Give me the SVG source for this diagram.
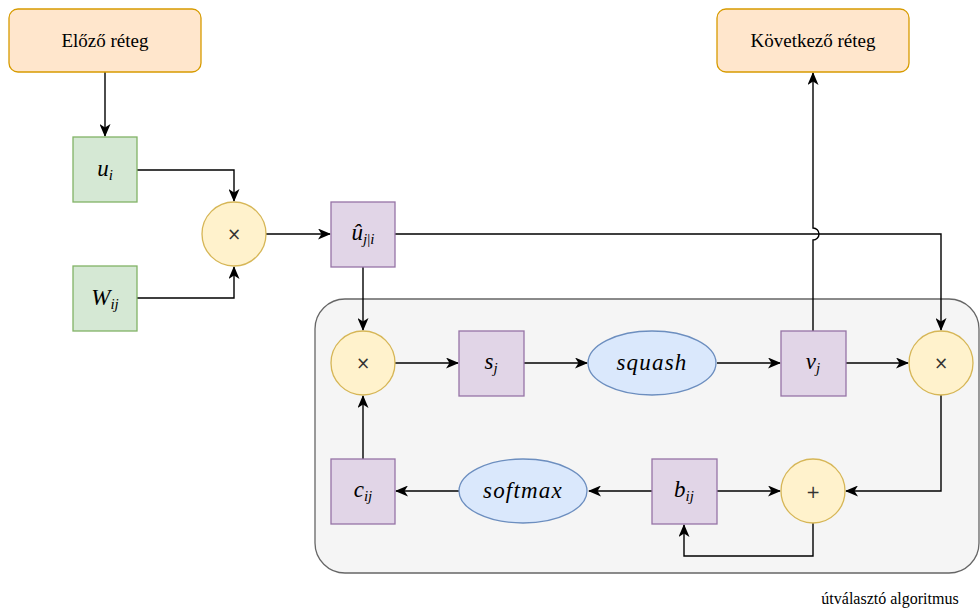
<svg xmlns="http://www.w3.org/2000/svg" width="980" height="612" viewBox="0 0 980 612">
<style>
.layer{fill:#ffe6cc;stroke:#d79b00;stroke-width:1.3}
.inp{fill:#d5e8d4;stroke:#82b366;stroke-width:1.3}
.var{fill:#e1d5e7;stroke:#9673a6;stroke-width:1.3}
.op{fill:#fff2cc;stroke:#d6b656;stroke-width:1.3}
.fn{fill:#dae8fc;stroke:#6c8ebf;stroke-width:1.3}
.lbl{font-family:'Liberation Serif','DejaVu Serif',serif;font-size:16px;fill:#000;text-anchor:middle}
.big{font-size:19px}
.m{font-family:'Liberation Serif','DejaVu Serif',serif;font-style:italic;font-size:23px;fill:#000;text-anchor:middle}
.w{letter-spacing:1.2px}
.s{font-size:15px}
.opt{font-family:'DejaVu Sans',sans-serif;font-size:17px;fill:#333;text-anchor:middle}
.e{fill:none;stroke:#000;stroke-width:1.4}
</style>
<defs>
<marker id="a" viewBox="0 0 13 11" refX="12" refY="5.5" markerWidth="13" markerHeight="11" markerUnits="userSpaceOnUse" orient="auto">
<path d="M0,0 L13,5.5 L0,11 L3.5,5.5 z" fill="#000"/>
</marker>
</defs>
<g id="container">
<rect x="315" y="299" width="664" height="274" rx="30" fill="#f5f5f5" stroke="#666" stroke-width="1.3"/>
<text x="890" y="604" class="lbl">útválasztó algoritmus</text>
</g>
<g id="connectors">
<path class="e" d="M105,72 V136" marker-end="url(#a)"/>
<path class="e" d="M137,170 H234 V201" marker-end="url(#a)"/>
<path class="e" d="M137,298 H234 V267" marker-end="url(#a)"/>
<path class="e" d="M266,234 H330" marker-end="url(#a)"/>
<path class="e" d="M395,234 H941 V330" marker-end="url(#a)"/>
<path class="e" d="M363,267 V330" marker-end="url(#a)"/>
<path class="e" d="M813,331 V240 A6,6 0 0 0 813,228 V73" marker-end="url(#a)"/>
<path class="e" d="M395,363 H458" marker-end="url(#a)"/>
<path class="e" d="M524,363 H587" marker-end="url(#a)"/>
<path class="e" d="M717,363 H780" marker-end="url(#a)"/>
<path class="e" d="M846,363 H908" marker-end="url(#a)"/>
<path class="e" d="M941,395 V491 H846" marker-end="url(#a)"/>
<path class="e" d="M717,491 H780" marker-end="url(#a)"/>
<path class="e" d="M813,523 V556 H684 V525" marker-end="url(#a)"/>
<path class="e" d="M652,491 H589" marker-end="url(#a)"/>
<path class="e" d="M459,491 H396" marker-end="url(#a)"/>
<path class="e" d="M363,459 V396" marker-end="url(#a)"/>
</g>
<g id="prev"><rect class="layer" x="9" y="9" width="192" height="63" rx="9"/><text class="lbl big" x="105" y="47">Előző réteg</text></g>
<g id="next"><rect class="layer" x="717" y="9" width="192" height="63" rx="9"/><text class="lbl big" x="813" y="47">Következő réteg</text></g>
<g id="ui"><rect class="inp" x="73" y="137" width="64" height="65"/><text class="m" x="105" y="176">u<tspan class="s" dy="4">i</tspan></text></g>
<g id="wij"><rect class="inp" x="73" y="266" width="64" height="65"/><text class="m" x="105" y="305">W<tspan class="s" dy="4">ij</tspan></text></g>
<g id="mul1"><circle class="op" cx="234" cy="234" r="32"/><text class="opt" x="234" y="240">×</text></g>
<g id="uhat"><rect class="var" x="331" y="202" width="64" height="65"/><text class="m" x="363" y="240">û<tspan class="s" dy="4">j<tspan font-style="normal">|</tspan>i</tspan></text></g>
<g id="mul2"><circle class="op" cx="363" cy="363" r="32"/><text class="opt" x="363" y="369">×</text></g>
<g id="sj"><rect class="var" x="459" y="331" width="65" height="65"/><text class="m" x="491" y="369">s<tspan class="s" dy="4">j</tspan></text></g>
<g id="squash"><ellipse class="fn" cx="652" cy="363" rx="64" ry="32"/><text class="m w" x="652" y="370">squash</text></g>
<g id="vj"><rect class="var" x="781" y="331" width="65" height="65"/><text class="m" x="813" y="369">v<tspan class="s" dy="4">j</tspan></text></g>
<g id="mul3"><circle class="op" cx="941" cy="363" r="32"/><text class="opt" x="941" y="369">×</text></g>
<g id="cij"><rect class="var" x="331" y="459" width="64" height="65"/><text class="m" x="363" y="497">c<tspan class="s" dy="4">ij</tspan></text></g>
<g id="softmax"><ellipse class="fn" cx="523" cy="491" rx="64" ry="32"/><text class="m w" x="523" y="498">softmax</text></g>
<g id="bij"><rect class="var" x="652" y="459" width="65" height="65"/><text class="m" x="684" y="497">b<tspan class="s" dy="4">ij</tspan></text></g>
<g id="plus"><circle class="op" cx="813" cy="491" r="32"/><text class="opt" x="813" y="498">+</text></g>
</svg>
